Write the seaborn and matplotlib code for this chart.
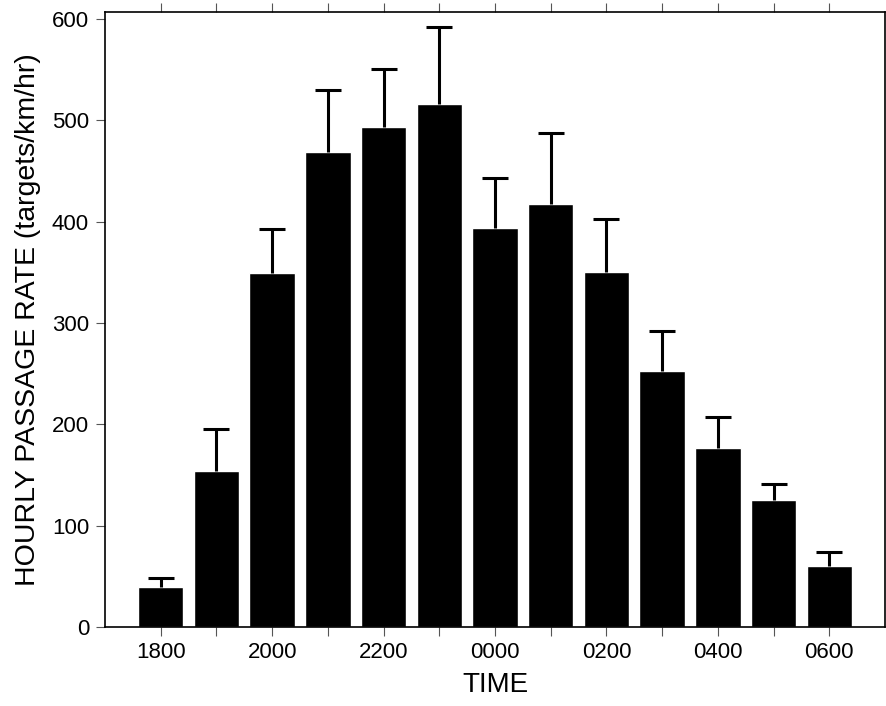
import numpy as np
import pandas as pd
import matplotlib
matplotlib.use("Agg")
from matplotlib import pyplot as plt
import seaborn as sns

# hourly passage rate
times = ["1800", "1900", "2000", "2100", "2200", "2300", "0000",
         "0100", "0200", "0300", "0400", "0500", "0600"]
rate = [39, 154, 349, 469, 493, 516, 394, 417, 350, 253, 177, 125, 60]
upper = [48, 195, 393, 530, 551, 592, 443, 488, 403, 292, 207, 141, 74]
tick_labels = [t if i % 2 == 0 else "" for i, t in enumerate(times)]

sns.set_style("white")
plt.rcParams["font.family"] = ["Liberation Sans", "DejaVu Sans"]
plt.rcParams["text.color"] = "black"
plt.rcParams["axes.labelcolor"] = "black"
plt.rcParams["xtick.color"] = "black"
plt.rcParams["ytick.color"] = "black"

df = pd.DataFrame({"time": times, "rate": rate})
err = np.array(upper) - np.array(rate)

fig = plt.figure(figsize=(8.87, 7.06), dpi=100)
ax = fig.add_axes([0.1184, 0.112, 0.8793, 0.871])

sns.barplot(data=df, x="time", y="rate", color="black", width=0.815,
            errorbar=None, saturation=1, ax=ax)
_, caps, _ = ax.errorbar(np.arange(len(times)), rate,
                         yerr=[np.zeros(len(err)), err],
                         fmt="none", ecolor="black", elinewidth=2.2,
                         capsize=9.7, capthick=2.2)
caps[0].set_visible(False)  # only the upper cap

ax.set_xlim(-1, 13)
ax.set_ylim(0, 607)
ax.set_yticks(range(0, 601, 100))
ax.set_xticks(range(len(times)))
ax.set_xticklabels(tick_labels)

ax.tick_params(axis="x", which="both", bottom=True, top=True, direction="out",
               length=6.5, width=0.8, color="#555555", labelsize=16, pad=4)
ax.tick_params(axis="y", left=True, right=False, direction="out",
               length=6.5, width=0.8, color="#555555", labelsize=16, pad=5)
for s in ax.spines.values():
    s.set_color("black")
    s.set_linewidth(1.2)

ax.set_xlabel("TIME", fontsize=20, labelpad=7)
ax.set_ylabel("HOURLY PASSAGE RATE (targets/km/hr)", fontsize=20.5,
              labelpad=8)

fig.savefig("out.png", dpi=100)
